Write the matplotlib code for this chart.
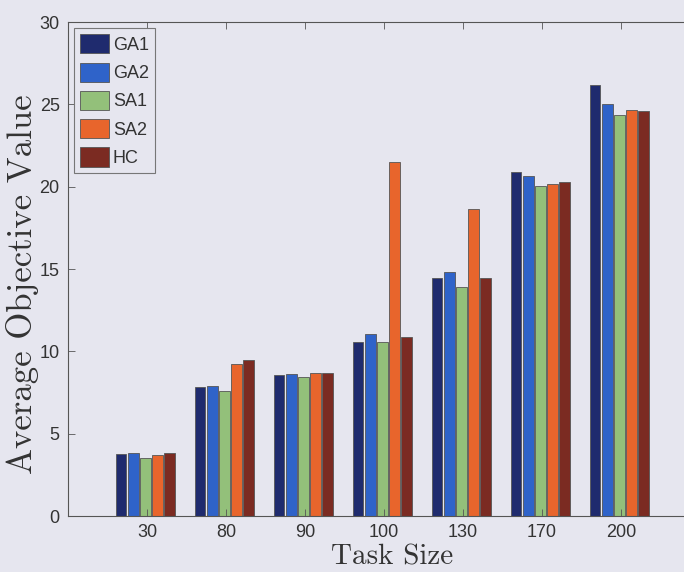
import numpy as np
import matplotlib
matplotlib.use("Agg")
from matplotlib import pyplot as plt

# data
task_size = ['30', '80', '90', '100', '130', '170', '200']
GA1 = [3.74, 7.82, 8.59, 10.56, 14.46, 20.90, 26.18]
GA2 = [3.82, 7.88, 8.65, 11.03, 14.81, 20.65, 25.01]
SA1 = [3.52, 7.59, 8.42, 10.58, 13.90, 20.04, 24.35]
SA2 = [3.72, 9.21, 8.67, 21.47, 18.65, 20.14, 24.67]
HC = [3.82, 9.50, 8.67, 10.85, 14.44, 20.28, 24.59]

names = ['GA1', 'GA2', 'SA1', 'SA2', 'HC']
series = [GA1, GA2, SA1, SA2, HC]
colors = ['#1f2b6e', '#2f63c9', '#93c07a', '#e8652c', '#7b2b22']

bg = '#e6e6ef'

fig = plt.figure(figsize=(6.84, 5.72), dpi=100, facecolor=bg)
ax = fig.add_axes([0.0994, 0.0979, 0.924, 0.8636], facecolor=bg)

x = np.arange(1, len(task_size) + 1)
pitch = 0.154
w = 0.135
for k in range(len(series)):
    ax.bar(x + (k - 2) * pitch - 0.02, series[k], width=w, color=colors[k],
           edgecolor='#555555', linewidth=0.6, label=names[k])

ax.set_xlim(0, 8)
ax.set_ylim(0, 30)
ax.set_xticks(x)
ax.set_xticklabels(task_size)
ax.set_yticks([0, 5, 10, 15, 20, 25, 30])

for lab in ax.get_xticklabels() + ax.get_yticklabels():
    lab.set_family('Liberation Sans')
    lab.set_fontsize(13)
    lab.set_color('#333333')
ax.tick_params(direction='in', length=5, width=0.6, color='#555555',
               top=True, right=False, pad=6)

for s in ['top', 'bottom', 'left']:
    ax.spines[s].set_color('#555555')
    ax.spines[s].set_linewidth(0.8)
ax.spines['right'].set_visible(False)

ax.set_xlabel('Task Size', family='cmr10', fontsize=21, color='#333333', va='top')
ax.xaxis.set_label_coords(0.513, -0.058)
ax.set_ylabel('Average Objective Value', family='cmr10', fontsize=25,
              color='#333333')
ax.yaxis.set_label_coords(-0.046, 0.469)

leg = ax.legend(loc='upper left', bbox_to_anchor=(0.0095, 0.988),
                prop={'family': 'Liberation Sans', 'size': 13},
                handlelength=1.6, handleheight=1.25, handletextpad=0.2,
                labelspacing=0.48, borderpad=0.35, borderaxespad=0,
                fancybox=False, framealpha=1, facecolor=bg, edgecolor='#777777')
leg.get_frame().set_linewidth(0.8)
for t in leg.get_texts():
    t.set_color('#333333')

fig.savefig('out.png', dpi=100, facecolor=bg)
